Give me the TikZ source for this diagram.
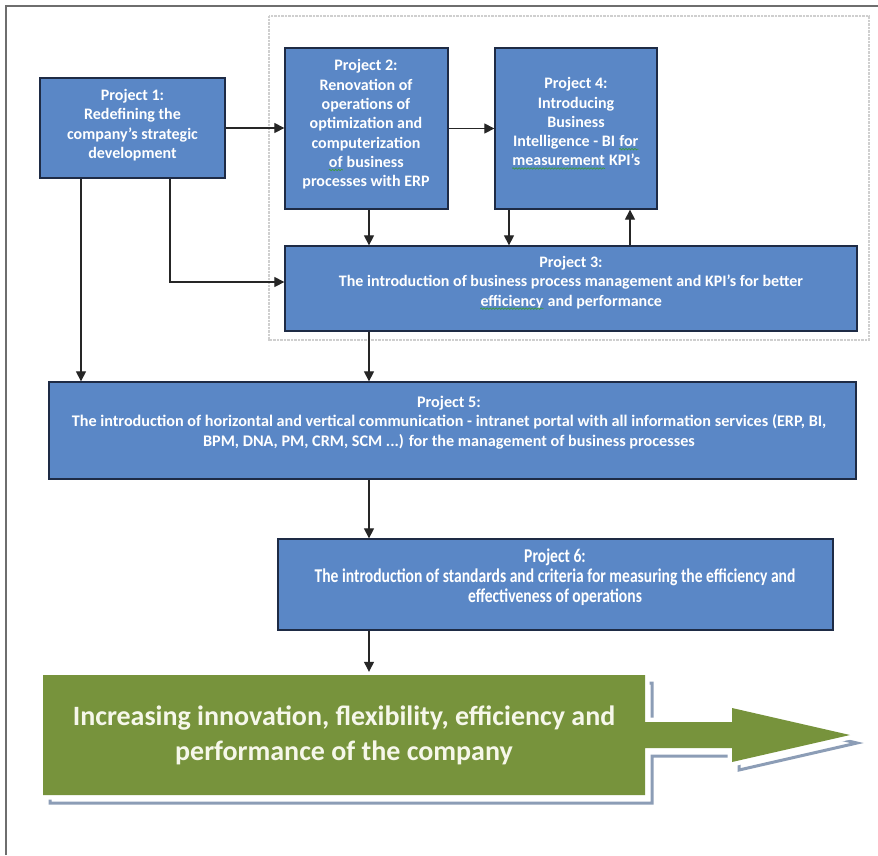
\documentclass[tikz,border=0pt]{standalone}
\usepackage{fontspec}
\setmainfont{Carlito}
\newfontfamily\narrowfont[FakeStretch=0.8]{Carlito}
\usetikzlibrary{arrows.meta,fit,decorations.pathmorphing}

\definecolor{boxblue}{HTML}{5A87C6}
\definecolor{boxline}{HTML}{1E2B45}
\definecolor{goalgreen}{HTML}{77933C}
\definecolor{goaltextcol}{HTML}{F6F7EA}
\definecolor{shadowblue}{HTML}{8C9DB6}
\definecolor{framegray}{HTML}{6E6E6E}
\definecolor{dotgray}{HTML}{CFCFCF}
\definecolor{squigcol}{HTML}{3E9A3E}

% word with a green wavy underline
\newcommand{\squig}[1]{\tikz[baseline=(sqw.base)]{%
  \node[inner sep=0pt] (sqw) {#1};
  \draw[squigcol, line width=0.7pt, decorate,
    decoration={snake, amplitude=0.7pt, segment length=3pt}]
    ([yshift=-2.5pt]sqw.base west) -- ([yshift=-2.5pt]sqw.base east);}}

\tikzset{
  pbox/.style={draw=boxline, line width=1.3pt, fill=boxblue, inner sep=0pt},
  ptext/.style={text=white, align=center, inner sep=0pt,
    font=\bfseries\fontsize{16}{19.3}\selectfont},
  pwide/.style={text=white, align=center, inner sep=0pt,
    font=\bfseries\fontsize{16.2}{19.6}\selectfont},
  pnarrow/.style={text=white, align=center, inner sep=0pt,
    font=\narrowfont\bfseries\fontsize{19.5}{19.8}\selectfont},
  goaltext/.style={text=goaltextcol, align=center, inner sep=0pt,
    font=\bfseries\fontsize{28}{35}\selectfont},
  link/.style={draw=black!85, line width=1.2pt,
    -{Triangle[length=10pt,width=10pt]}},
}

% outline of the green goal arrow
\def\goalshape{(43,675) -- (645,675) -- (645,722) -- (732,722) -- (732,708)
  -- (850,735) -- (732,762) -- (732,748) -- (645,748) -- (645,795)
  -- (43,795) -- cycle}

\begin{document}
\begin{tikzpicture}[x=1pt,y=-1pt]
\useasboundingbox (0,0) rectangle (878,855);
\fill[white] (0,0) rectangle (878,855);

% page frame and the group of projects 2--4
\draw[framegray, line width=2pt] (6,855) -- (6,6) -- (878,6);
\draw[dotgray, line width=1.5pt, dash pattern=on 1pt off 0.4pt]
  (269,16) rectangle (869,340);

% project boxes
\node[pbox, fit={(40,78)(225,178)}]   (p1) {};
\node[pbox, fit={(285,48)(448,209)}]  (p2) {};
\node[pbox, fit={(495,48)(657,209)}]  (p4) {};
\node[pbox, fit={(285,246)(857,331)}] (p3) {};
\node[pbox, fit={(49,382)(856,479)}]  (p5) {};
\node[pbox, fit={(278,539)(833,630)}] (p6) {};

% project texts
\node[ptext] (p1t) at (132.5,125) {Project 1:\\Redefining the\\company's strategic\\development};
\node[ptext] (p2t) at (366,124.5) {Project 2:\\Renovation of\\operations of\\optimization and\\computerization\\\squig{of} business\\processes with ERP};
\node[ptext] (p4t) at (576,123.5) {Project 4:\\Introducing\\Business\\Intelligence - BI \squig{for}\\\squig{measurement} KPI's};
\node[ptext] (p3t) at (571,283) {Project 3:\\The introduction of business process management and KPI's for better\\\squig{efficiency} and performance};
\node[pwide] (p5t) at (449,422.5) {Project 5:\\The introduction of horizontal and vertical communication - intranet portal with all information services (ERP, BI,\\BPM, DNA, PM, CRM, SCM ...) for the management of business processes};
\node[pnarrow] (p6t) at (555,577) {Project 6:\\The introduction of standards and criteria for measuring the efficiency and\\effectiveness of operations};

% goal arrow: shadow, white rim, green body
\draw[shadowblue, line width=3pt, shift={(7,8)}] \goalshape;
\draw[white, line width=9pt, line join=miter] \goalshape;
\fill[goalgreen] \goalshape;
\node[inner sep=0pt, fit={(43,675)(645,795)}] (goal) {};
\node[goaltext] (goalt) at (344,735.5) {Increasing innovation, flexibility, efficiency and\\performance of the company};

% x and y positions of the connectors
\coordinate (xa) at (81,0);
\coordinate (xb) at (170,0);
\coordinate (xc) at (369,0);
\coordinate (xd) at (509,0);
\coordinate (xe) at (630,0);
\coordinate (yb) at (0,282);

% connectors
\draw[link] (p1.east) -- (p1.east -| p2.west);
\draw[link] (p2.east) -- (p2.east -| p4.west);
\draw[link] (p2.south -| xc) -- (p3.north -| xc);
\draw[link] (p4.south -| xd) -- (p3.north -| xd);
\draw[link] (p3.north -| xe) -- (p4.south -| xe);
\draw[link] (p1.south -| xa) -- (p5.north -| xa);
\draw[link] (p1.south -| xb) |- (p3.west |- yb);
\draw[link] (p3.south -| xc) -- (p5.north -| xc);
\draw[link] (p5.south -| xc) -- (p6.north -| xc);
\draw[link, shorten >=3pt] (p6.south -| xc) -- (goal.north -| xc);
\end{tikzpicture}
\end{document}
